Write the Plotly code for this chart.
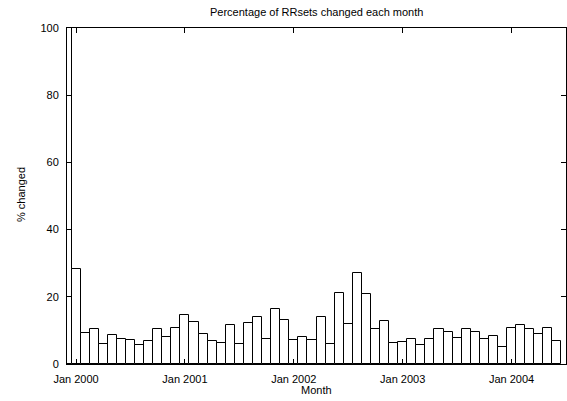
import plotly.graph_objects as go

months = [
    "Dec 1999",
    "Jan 2000", "Feb 2000", "Mar 2000", "Apr 2000", "May 2000", "Jun 2000",
    "Jul 2000", "Aug 2000", "Sep 2000", "Oct 2000", "Nov 2000", "Dec 2000",
    "Jan 2001", "Feb 2001", "Mar 2001", "Apr 2001", "May 2001", "Jun 2001",
    "Jul 2001", "Aug 2001", "Sep 2001", "Oct 2001", "Nov 2001", "Dec 2001",
    "Jan 2002", "Feb 2002", "Mar 2002", "Apr 2002", "May 2002", "Jun 2002",
    "Jul 2002", "Aug 2002", "Sep 2002", "Oct 2002", "Nov 2002", "Dec 2002",
    "Jan 2003", "Feb 2003", "Mar 2003", "Apr 2003", "May 2003", "Jun 2003",
    "Jul 2003", "Aug 2003", "Sep 2003", "Oct 2003", "Nov 2003", "Dec 2003",
    "Jan 2004", "Feb 2004", "Mar 2004", "Apr 2004", "May 2004", "Jun 2004",
]

pct_changed = [
    100.0,
    28.4, 9.1, 10.3, 6.0, 8.5, 7.4, 7.1, 5.8, 6.7, 10.3, 8.1, 10.6,
    14.5, 12.4, 8.8, 6.8, 6.4, 11.7, 6.1, 12.2, 13.9, 7.3, 16.4, 13.2,
    7.1, 8.0, 7.2, 14.0, 5.9, 21.0, 11.9, 27.0, 20.8, 10.3, 12.9, 6.3,
    6.5, 7.4, 5.8, 7.3, 10.5, 9.6, 7.6, 10.3, 9.5, 7.4, 8.3, 5.1,
    10.6, 11.5, 10.3, 8.8, 10.6, 6.8,
]

y_ticks = [0, 20, 40, 60, 80, 100]

x_pos = list(range(len(months)))
tick_pos = [i for i, m in enumerate(months) if m.startswith("Jan")]
tick_text = [months[i] for i in tick_pos]

FONT = "Liberation Sans, Arial, Helvetica, sans-serif"

fig = go.Figure(
    go.Bar(
        x=x_pos,
        y=pct_changed,
        width=1,
        marker=dict(color="white", line=dict(color="black", width=1)),
        hovertext=months,
    )
)

fig.update_layout(
    width=567,
    height=401,
    margin=dict(l=67, r=1, t=28, b=37, autoexpand=False),
    paper_bgcolor="white",
    plot_bgcolor="white",
    showlegend=False,
    font=dict(family=FONT, size=11, color="black"),
    bargap=0,
    annotations=[
        dict(text="Percentage of RRsets changed each month", xref="paper", yref="paper",
             x=0.5, y=1.0476, xanchor="center", yanchor="middle", showarrow=False,
             font=dict(family=FONT, size=11, color="black")),
        dict(text="Month", xref="paper", yref="paper",
             x=0.5, y=-0.0774, xanchor="center", yanchor="middle", showarrow=False,
             font=dict(family=FONT, size=11, color="black")),
        dict(text="% changed", xref="paper", yref="paper", textangle=-90,
             x=-0.0922, y=0.506, xanchor="center", yanchor="middle", showarrow=False,
             font=dict(family=FONT, size=11, color="black")),
    ],
)

fig.update_xaxes(
    range=[0, 55],
    tickmode="array",
    tickvals=tick_pos,
    ticktext=tick_text,
    ticks="inside",
    ticklen=5,
    tickcolor="black",
    showline=True,
    linecolor="black",
    linewidth=1,
    mirror="ticks",
    showgrid=False,
    zeroline=False,
    ticklabelstandoff=5,
    automargin=False,
)

fig.update_yaxes(
    range=[0, 100],
    tickmode="array",
    tickvals=y_ticks,
    ticks="inside",
    ticklen=5,
    tickcolor="black",
    showline=True,
    linecolor="black",
    linewidth=1,
    mirror="ticks",
    showgrid=False,
    zeroline=False,
    ticklabelstandoff=5,
    automargin=False,
)

fig.write_html(
    "out.html",
    config={"displayModeBar": False},
    post_script="document.body.style.margin='0';document.body.style.overflow='hidden';",
)
